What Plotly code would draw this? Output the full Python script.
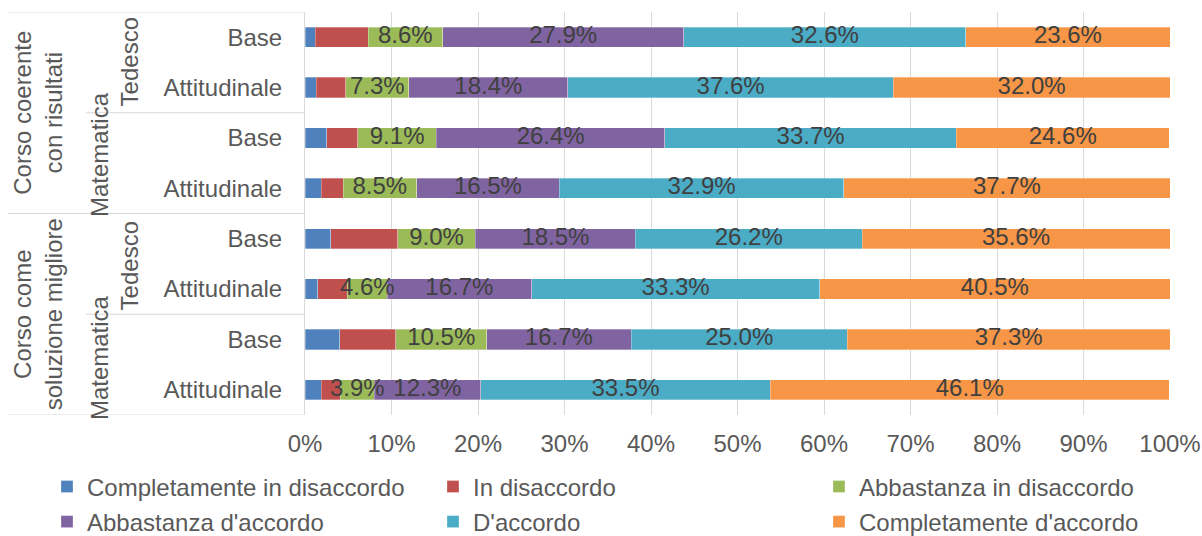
import plotly.graph_objects as go

# ---- data ----
row_labels = ["Base", "Attitudinale", "Base", "Attitudinale",
              "Base", "Attitudinale", "Base", "Attitudinale"]
series_names = ["Completamente in disaccordo", "In disaccordo", "Abbastanza in disaccordo",
                "Abbastanza d'accordo", "D'accordo", "Completamente d'accordo"]
completamente_disaccordo = [1.2, 1.3, 2.5, 1.9, 3.0, 1.5, 4.0, 1.9]
in_disaccordo = [6.1, 3.4, 3.6, 2.5, 7.7, 3.4, 6.5, 2.2]
abbastanza_disaccordo = [8.6, 7.3, 9.1, 8.5, 9.0, 4.6, 10.5, 3.9]
abbastanza_accordo = [27.9, 18.4, 26.4, 16.5, 18.5, 16.7, 16.7, 12.3]
d_accordo = [32.6, 37.6, 33.7, 32.9, 26.2, 33.3, 25.0, 33.5]
completamente_accordo = [23.6, 32.0, 24.6, 37.7, 35.6, 40.5, 37.3, 46.1]
show_label = [False, False, True, True, True, True]

level1 = ["Corso coerente<br>con risultati", "Corso come<br>soluzione migliore"]
level2 = ["Tedesco", "Matematica", "Tedesco", "Matematica"]

colors = ["#4F81BD", "#C0504D", "#9BBB59", "#8064A2", "#4BACC6", "#F79646"]
series_values = [completamente_disaccordo, in_disaccordo, abbastanza_disaccordo,
                 abbastanza_accordo, d_accordo, completamente_accordo]

FONT = "Liberation Sans, Arial, sans-serif"
FS = 24
W, H = 1202, 536
ML, MR, MT, MB = 305, 32, 12, 121
PW = W - ML - MR
PH = H - MT - MB

def px_to_paper_x(px):
    return (px - ML) / PW

def py_to_paper_y(py):
    return (H - MB - py) / PH

ypos = list(range(len(row_labels)))

fig = go.Figure()
cum = [0.0] * len(row_labels)
label_traces = []
for i, (name, vals) in enumerate(zip(series_names, series_values)):
    fracs = [v / 100 for v in vals]
    fig.add_trace(go.Bar(
        name=name, orientation="h", y=ypos, x=fracs,
        marker=dict(color=colors[i], line=dict(color="rgba(255,255,255,0.5)", width=0.6)),
        legend="legend" if i < 3 else "legend2",
        hoverinfo="skip",
    ))
    if show_label[i]:
        mids = [c + f / 2 for c, f in zip(cum, fracs)]
        label_traces.append(go.Scatter(
            x=mids, y=ypos, mode="text", text=[f"{v:.1f}%" for v in vals],
            textposition="middle center", cliponaxis=False,
            textfont=dict(family=FONT, size=FS, color="#404040"),
            showlegend=False, hoverinfo="skip",
        ))
    cum = [c + f for c, f in zip(cum, fracs)]

for t in label_traces:
    fig.add_trace(t)

legend_common = dict(orientation="h", x=px_to_paper_x(47), xanchor="left",
                     yanchor="middle", entrywidth=341,
                     font=dict(family=FONT, size=FS, color="#595959"),
                     traceorder="normal", bgcolor="rgba(0,0,0,0)")

fig.update_layout(
    barmode="stack", bargap=0.6,
    width=W, height=H,
    margin=dict(l=ML, r=MR, t=MT, b=MB, autoexpand=False),
    paper_bgcolor="white", plot_bgcolor="white",
    font=dict(family=FONT, size=FS, color="#595959"),
    xaxis=dict(range=[0, 1], tickvals=[i / 10 for i in range(11)], tickformat=".0%",
               showgrid=True, gridcolor="#d9d9d9", gridwidth=1, zeroline=False,
               ticks="", ticklabelstandoff=12, showline=False, automargin=False,
               tickfont=dict(family=FONT, size=FS, color="#595959")),
    yaxis=dict(range=[7.5, -0.5], tickvals=ypos, ticktext=row_labels,
               showgrid=False, zeroline=False, ticks="", showline=True,
               linecolor="#d9d9d9", linewidth=1, ticklabelstandoff=17, automargin=False,
               tickfont=dict(family=FONT, size=FS, color="#595959")),
    legend=dict(legend_common, y=py_to_paper_y(487)),
    legend2=dict(legend_common, y=py_to_paper_y(522)),
    showlegend=True,
)

line_style = dict(color="#d9d9d9", width=1)
x_outer = px_to_paper_x(8)
x_inner = px_to_paper_x(86)
for yb in [-0.5, 3.5, 7.5]:
    fig.add_shape(type="line", xref="paper", yref="y", x0=x_outer, x1=0, y0=yb, y1=yb,
                  line=line_style)
for yb in [1.5, 5.5]:
    fig.add_shape(type="line", xref="paper", yref="y", x0=x_inner, x1=0, y0=yb, y1=yb,
                  line=line_style)

# level 1 labels
for lab, yc in zip(level1, [1.5, 5.5]):
    fig.add_annotation(text=lab, xref="paper", yref="y", x=px_to_paper_x(38), y=yc,
                       textangle=-90, showarrow=False, xanchor="center", yanchor="middle",
                       font=dict(family=FONT, size=FS, color="#595959"))
# level 2 labels (positions as drawn in the original)
lvl2_pos = [(129, 0.5), (99, 2.34), (129, 4.55), (99, 6.37)]
for lab, (xp, yc) in zip(level2, lvl2_pos):
    fig.add_annotation(text=lab, xref="paper", yref="y", x=px_to_paper_x(xp), y=yc,
                       textangle=-90, showarrow=False, xanchor="center", yanchor="middle",
                       font=dict(family=FONT, size=FS, color="#595959"))

fig.write_html("out.html", config={"displayModeBar": False},
               post_script="document.body.style.margin='0';document.body.style.overflow='hidden';")
